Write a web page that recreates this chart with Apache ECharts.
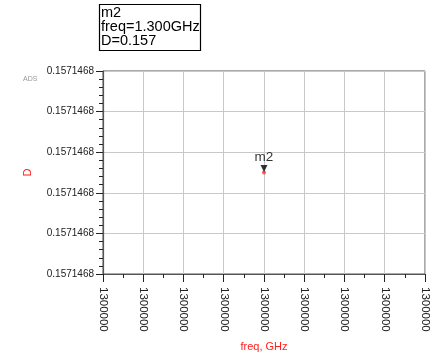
<!DOCTYPE html>
<html>
<head>
<meta charset="utf-8">
<script src="https://cdn.jsdelivr.net/npm/echarts@6/dist/echarts.min.js"></script>
<style>
  html, body { margin: 0; padding: 0; background: #fff; }
  #chart { width: 441px; height: 357px; }
</style>
</head>
<body>
<div id="chart"></div>
<script>
// Marker m2 readout: frequency (GHz) and D value
const markerName = 'm2';
const freq = [1.3];
const dValue = [0.1571468005];

// Axis ranges around the marker (degenerate sweep)
const xRange = [1.2999996, 1.3000004];
const xStep = 1e-7;
const yRange = [0.157146798, 0.157146803];
const yStep = 1e-9;

const points = freq.map((f, i) => [f, dValue[i]]);
const FONT = '"Liberation Sans", Arial, sans-serif';
const axisColor = '#555';

const chart = echarts.init(document.getElementById('chart'), null, { renderer: 'canvas' });
chart.setOption({
  animation: false,
  backgroundColor: '#fff',
  grid: { left: 103, top: 71, right: 16, bottom: 82, show: true, borderColor: axisColor, borderWidth: 1 },
  xAxis: {
    type: 'value',
    min: xRange[0], max: xRange[1], interval: xStep,
    name: 'freq, GHz', nameLocation: 'middle', nameGap: 67,
    nameTextStyle: { color: '#ff2020', fontSize: 11, fontFamily: FONT },
    axisLine: { show: true, lineStyle: { color: axisColor, width: 1.2 } },
    axisTick: { show: true, inside: false, length: 8, lineStyle: { color: '#222' } },
    minorTick: { show: true, splitNumber: 2, length: 4, lineStyle: { color: '#222' } },
    splitLine: { show: true, lineStyle: { color: '#c8c8c8', width: 1 } },
    axisLabel: {
      rotate: -90, margin: 13, fontSize: 11.5, color: '#222', fontFamily: FONT,
      formatter: v => v.toFixed(6).replace('.', '')
    }
  },
  yAxis: {
    type: 'value',
    min: yRange[0], max: yRange[1], interval: yStep,
    name: 'D', nameLocation: 'middle', nameGap: 70,
    nameTextStyle: { color: '#ff2020', fontSize: 11, fontFamily: FONT },
    axisLine: { show: true, lineStyle: { color: axisColor, width: 1.2 } },
    axisTick: { show: true, inside: false, length: 7, lineStyle: { color: '#222' } },
    minorTick: { show: true, splitNumber: 5, length: 4, lineStyle: { color: '#222' } },
    splitLine: { show: true, lineStyle: { color: '#c8c8c8', width: 1 } },
    axisLabel: {
      margin: 9, fontSize: 10, color: '#222', fontFamily: FONT,
      formatter: v => v.toFixed(7)
    }
  },
  series: [
    {
      type: 'scatter',
      data: points,
      symbol: 'circle', symbolSize: 4,
      itemStyle: { color: '#ff3030' },
      z: 3
    },
    {
      type: 'scatter',
      data: points,
      symbol: 'triangle', symbolRotate: 180, symbolSize: [7, 7],
      symbolOffset: [0, -4],
      itemStyle: { color: '#000' },
      label: {
        show: true, position: 'top', distance: 1,
        formatter: markerName, color: '#000', fontSize: 13.5, fontFamily: FONT
      },
      z: 4
    }
  ],
  graphic: [
    {
      type: 'text', left: 23, top: 76,
      style: { text: 'ADS', fill: '#999', fontSize: 7, fontFamily: FONT }
    },
    {
      type: 'rect', shape: { x: 99.5, y: 4.5, width: 101, height: 46 },
      style: { fill: 'none', stroke: '#000', lineWidth: 1.2 }
    },
    {
      type: 'text', left: 101, top: 5,
      style: {
        text: markerName + '\nfreq=' + freq[0].toFixed(3) + 'GHz\nD=' + dValue[0].toFixed(3),
        fill: '#000', fontSize: 14.5, lineHeight: 14, fontFamily: FONT
      }
    }
  ]
});
</script>
</body>
</html>
